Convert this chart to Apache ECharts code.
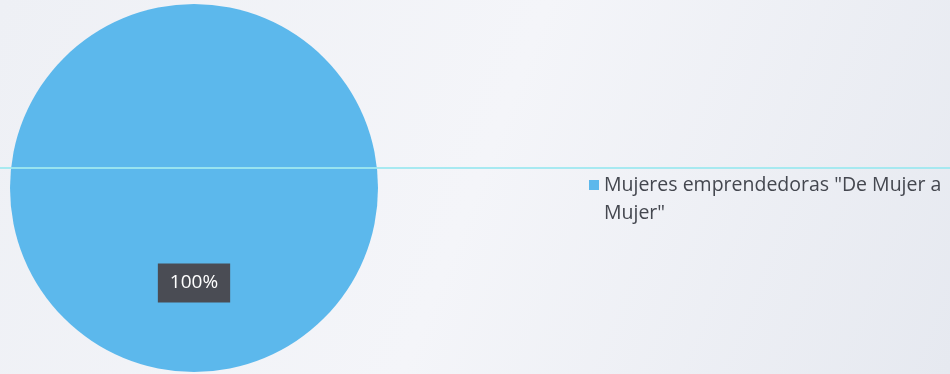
<!DOCTYPE html>
<html>
<head>
<meta charset="utf-8">
<script src="https://cdn.jsdelivr.net/npm/echarts@6/dist/echarts.min.js"></script>
<style>
  html, body { margin: 0; padding: 0; }
  #chart { width: 950px; height: 374px; }
</style>
</head>
<body>
<div id="chart"></div>
<script>
// Participant groups and their share
const categories = ['Mujeres emprendedoras "De Mujer a Mujer"'];
const values = [100];

const chart = echarts.init(document.getElementById('chart'));

chart.setOption({
  backgroundColor: {
    type: 'linear', x: 0, y: 0, x2: 1, y2: 1,
    colorStops: [
      { offset: 0, color: '#eef0f5' },
      { offset: 0.5, color: '#f4f5f9' },
      { offset: 1, color: '#e6e9f0' }
    ]
  },
  color: ['#5cb8ec'],
  legend: {
    orient: 'vertical',
    left: 584,
    top: 138,
    itemWidth: 10,
    itemHeight: 10,
    icon: 'rect',
    // leading empty line keeps the marker level with the first text line
    formatter: name => '\n' + name,
    textStyle: {
      fontFamily: 'Open Sans',
      fontSize: 19.5,
      color: '#44474f',
      width: 355,
      overflow: 'break',
      lineHeight: 28
    },
    data: categories
  },
  graphic: [{
    type: 'line',
    shape: { x1: 0, y1: 168, x2: 950, y2: 168 },
    style: { stroke: '#9fe8f0', lineWidth: 2, opacity: 0.9 },
    z: 100
  }],
  series: [{
    type: 'pie',
    center: [194, 188],
    radius: [0, 184],
    startAngle: 90,
    animation: false,
    label: {
      position: 'inside',
      formatter: '{d}%',
      fontFamily: 'Open Sans',
      fontSize: 19,
      color: '#ffffff',
      backgroundColor: '#4a4c54',
      padding: [10, 12, 10, 12]
    },
    labelLine: { show: false },
    emphasis: { disabled: true },
    data: categories.map((name, i) => ({ name, value: values[i] }))
  }]
});
</script>
</body>
</html>
